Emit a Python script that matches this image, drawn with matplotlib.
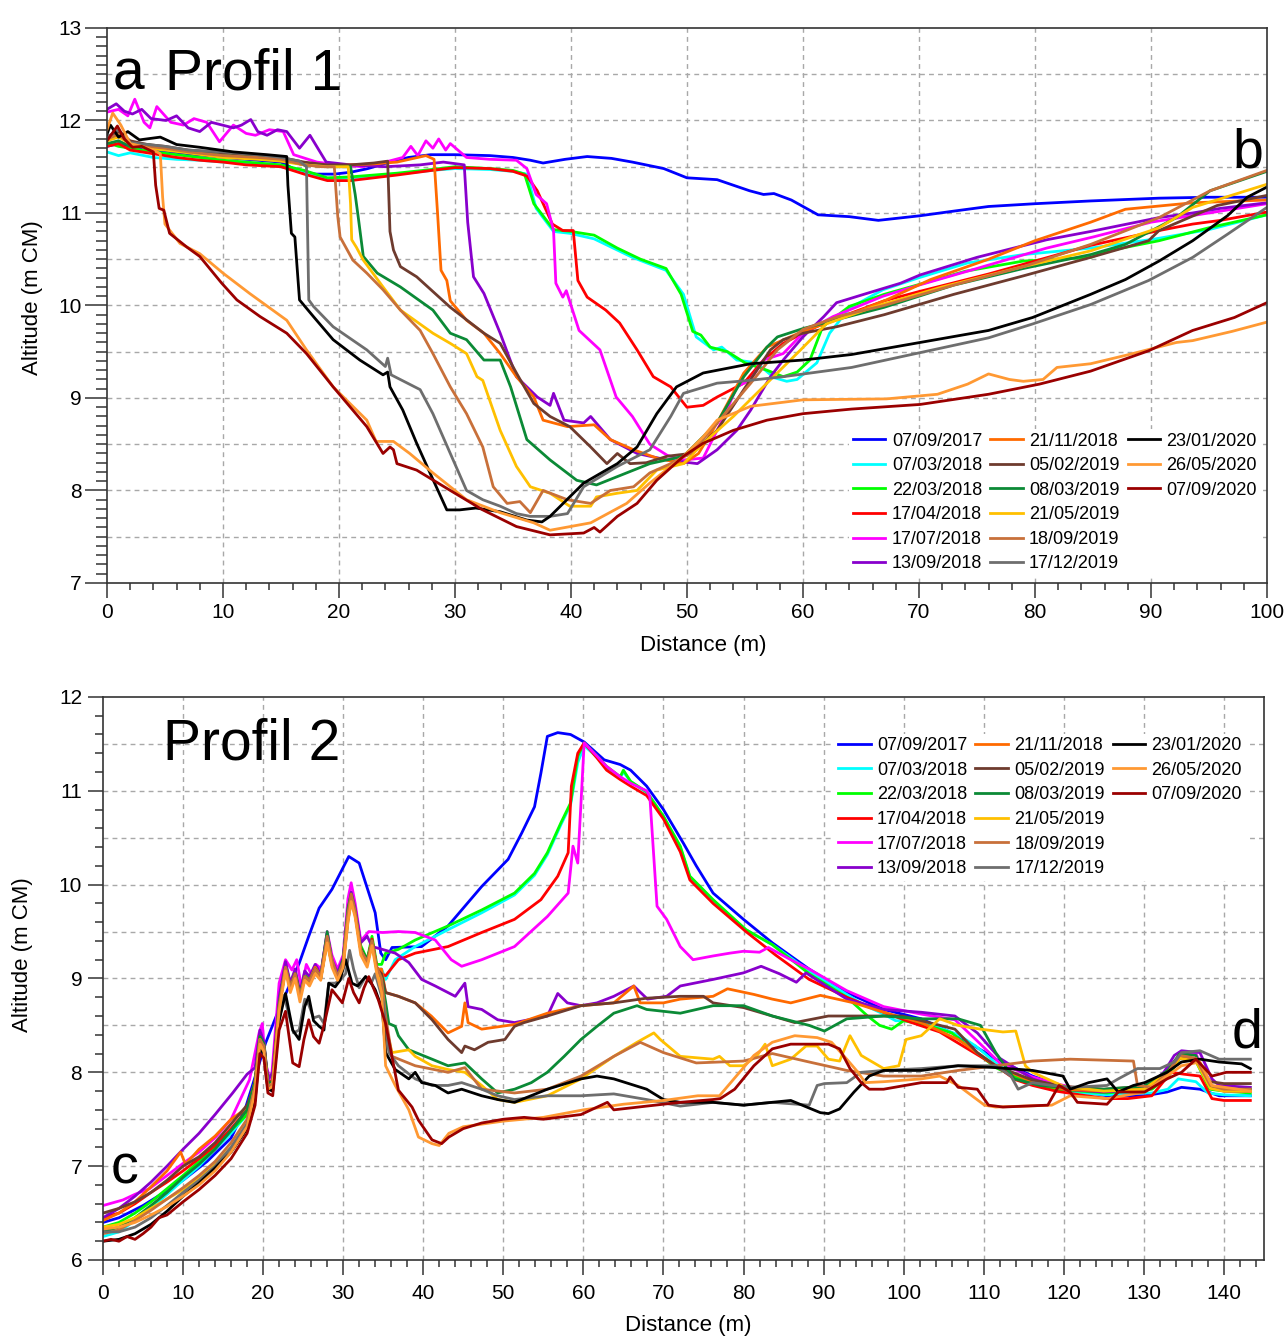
import numpy as np
import matplotlib.pyplot as plt
from matplotlib.lines import Line2D
from matplotlib.ticker import MultipleLocator

plt.rcParams['font.family'] = ['Liberation Sans', 'DejaVu Sans']

dates = ['07/09/2017', '07/03/2018', '22/03/2018', '17/04/2018', '17/07/2018',
         '13/09/2018', '21/11/2018', '05/02/2019', '08/03/2019', '21/05/2019',
         '18/09/2019', '17/12/2019', '23/01/2020', '26/05/2020', '07/09/2020']
colors = ['#0000ff', '#00ffff', '#00ff00', '#ff0000', '#ff00ff',
          '#8800cc', '#ff6a00', '#6e3b2e', '#0b8a36', '#ffc000',
          '#c8703a', '#6e6e6e', '#000000', '#ff9933', '#9a0000']

# ---------------- Profil 1 ----------------
p1_x_07092017 = [0, 1, 2, 3.5, 5, 7, 10, 13, 15, 16.5, 18, 19.6, 21, 22.5, 24.4, 26, 27.9, 30, 33, 35, 36.5, 37.6, 39.5, 41.4, 43.5, 45.3, 48, 50, 52.6, 54, 55.4, 56.6, 57.5, 59, 61.3, 64, 66.5, 70.1, 73, 76, 80, 84.8, 90.7, 95, 100]
p1_y_07092017 = [11.72, 11.75, 11.7, 11.68, 11.67, 11.64, 11.6, 11.57, 11.55, 11.45, 11.42, 11.42, 11.44, 11.48, 11.55, 11.6, 11.63, 11.63, 11.62, 11.6, 11.57, 11.54, 11.58, 11.61, 11.59, 11.55, 11.48, 11.38, 11.36, 11.3, 11.24, 11.2, 11.21, 11.14, 10.98, 10.96, 10.92, 10.97, 11.02, 11.07, 11.1, 11.13, 11.16, 11.17, 11.17]

p1_x_07032018 = [0, 1, 2, 4, 6, 8, 10, 12, 15, 17, 19, 21, 23, 25, 28, 30, 33, 35, 36.2, 37.0, 38.5, 39.9, 42, 45.3, 48.2, 49.7, 50.8, 52.3, 53, 54.3, 56, 57.5, 58.6, 59.5, 61.2, 62.3, 64, 66.9, 70, 74.2, 79, 84.8, 90.4, 95, 100]
p1_y_07032018 = [11.66, 11.62, 11.65, 11.6, 11.58, 11.57, 11.55, 11.54, 11.5, 11.45, 11.37, 11.38, 11.4, 11.42, 11.46, 11.48, 11.47, 11.45, 11.42, 11.05, 10.8, 10.78, 10.72, 10.52, 10.38, 10.12, 9.66, 9.52, 9.55, 9.41, 9.38, 9.22, 9.18, 9.2, 9.38, 9.7, 9.97, 10.17, 10.3, 10.46, 10.55, 10.62, 10.72, 10.82, 10.98]

p1_x_22032018 = [0, 1, 2, 4, 6, 8, 10, 12, 15, 17, 19, 21, 23, 25, 28, 30, 33, 35, 36, 36.8, 38.5, 40, 42, 44, 46, 48.2, 49.5, 50.5, 51.2, 52, 53.5, 55, 56.9, 58.3, 59.5, 60.6, 61.7, 64, 67, 70.1, 74, 79, 84.8, 86.3, 90.7, 95, 100]
p1_y_22032018 = [11.76, 11.72, 11.7, 11.66, 11.63, 11.6, 11.57, 11.55, 11.52, 11.46, 11.38, 11.39, 11.41, 11.43, 11.47, 11.5, 11.48, 11.46, 11.42, 11.1, 10.82, 10.8, 10.76, 10.62, 10.5, 10.4, 10.12, 9.72, 9.68, 9.55, 9.5, 9.38, 9.3, 9.23, 9.28, 9.41, 9.77, 9.99, 10.12, 10.23, 10.37, 10.48, 10.52, 10.59, 10.7, 10.84, 10.98]

p1_x_17042018 = [0, 1, 2, 4, 6, 8, 10, 12, 15, 17, 19, 21, 23, 25, 28, 30, 33, 35, 36.2, 37.1, 38.4, 39.3, 40.2, 40.6, 41.4, 43, 44.2, 45.7, 47.1, 48.6, 50, 51.4, 52.6, 54.9, 56.6, 58.3, 60, 62, 64.2, 67, 70, 76, 80, 84.8, 90.7, 93.6, 96, 100]
p1_y_17042018 = [11.72, 11.75, 11.68, 11.64, 11.6, 11.57, 11.55, 11.52, 11.5, 11.42, 11.35, 11.35, 11.38, 11.41, 11.46, 11.49, 11.48, 11.45, 11.4, 11.24, 10.88, 10.81, 10.81, 10.27, 10.09, 9.95, 9.81, 9.52, 9.23, 9.12, 8.9, 8.92, 9.01, 9.16, 9.41, 9.59, 9.7, 9.82, 9.92, 10.05, 10.15, 10.34, 10.48, 10.65, 10.81, 10.88, 10.92, 11.01]

p1_x_17072018 = [0, 1, 1.8, 2.4, 3.2, 3.7, 4.3, 5.5, 6.6, 7.5, 8.6, 9.7, 10.9, 12, 12.8, 14, 15.2, 16.1, 18.1, 20, 22, 24, 25.5, 26.2, 26.8, 27.5, 28.1, 28.6, 29.2, 29.6, 31, 33, 35.3, 36.2, 37, 37.9, 38.5, 38.7, 39.3, 39.6, 40.7, 42.5, 43.9, 45.3, 46.8, 48.3, 49.7, 51.4, 53.2, 54.3, 55.5, 56.6, 58.3, 60, 62.6, 66.9, 70, 75, 81, 85, 90, 95, 100]
p1_y_17072018 = [12.09, 12.12, 12.05, 12.23, 11.98, 11.92, 12.15, 11.98, 11.95, 12.02, 11.98, 11.77, 11.95, 11.86, 11.84, 11.9, 11.88, 11.63, 11.55, 11.52, 11.5, 11.55, 11.6, 11.72, 11.62, 11.78, 11.7, 11.8, 11.68, 11.75, 11.6, 11.58, 11.57, 11.48, 11.2, 11.1, 10.81, 10.24, 10.09, 10.16, 9.73, 9.52, 9.01, 8.8, 8.5, 8.38, 8.33, 8.35, 8.8, 9.12, 9.2, 9.41, 9.48, 9.7, 9.88, 10.1, 10.22, 10.4, 10.62, 10.74, 10.9, 11.0, 11.1]

p1_x_13092018 = [0, 0.8, 1.5, 2.2, 3, 3.8, 5.1, 6, 7, 8, 9, 10.9, 11.6, 12.4, 13, 13.8, 14.7, 15.5, 16.6, 17.5, 18.9, 21, 24, 27, 29, 30.8, 31.1, 31.6, 32.5, 33.9, 35.3, 37.1, 38.2, 38.5, 39.4, 41.1, 41.7, 43.4, 45.7, 48.3, 50.9, 52.6, 54.3, 55.5, 57.2, 58.3, 60, 61.8, 62.9, 65.5, 68.4, 70.1, 75, 81, 84.8, 90.7, 93.6, 96, 100]
p1_y_13092018 = [12.12, 12.18, 12.1, 12.07, 12.12, 12.02, 12.0, 12.05, 11.92, 11.88, 11.98, 11.92, 11.95, 12.01, 11.88, 11.84, 11.9, 11.88, 11.7, 11.84, 11.55, 11.52, 11.5, 11.52, 11.55, 11.52, 10.9, 10.31, 10.13, 9.7, 9.23, 9.01, 8.92, 9.05, 8.76, 8.73, 8.8, 8.55, 8.4, 8.33, 8.29, 8.44, 8.65, 8.87, 9.23, 9.41, 9.66, 9.88, 10.03, 10.13, 10.24, 10.33, 10.52, 10.71, 10.8, 10.95, 11.0, 11.05, 11.11]

p1_x_21112018 = [0, 1, 2, 3.5, 5, 7, 10, 13, 15, 17, 19, 21, 23, 25, 27.5, 28.2, 28.5, 28.8, 29.3, 29.6, 31, 32.5, 33.9, 35.3, 36.8, 37.6, 39.7, 42, 43.4, 45.4, 47.4, 49.7, 51, 52.6, 54.9, 56.9, 60, 63, 67.2, 71, 76, 80, 84.8, 87.8, 93.6, 100]
p1_y_21112018 = [11.8, 11.85, 11.75, 11.72, 11.7, 11.66, 11.62, 11.6, 11.58, 11.52, 11.5, 11.52, 11.53, 11.55, 11.62, 11.58, 11.0, 10.38, 10.27, 10.05, 9.84, 9.7, 9.48, 9.23, 9.01, 8.76, 8.69, 8.71, 8.55, 8.44, 8.35, 8.29, 8.4, 8.73, 9.27, 9.55, 9.72, 9.85, 10.06, 10.28, 10.5, 10.7, 10.9, 11.04, 11.11, 11.14]

p1_x_05022019 = [0, 1, 2, 3.5, 5, 7, 10, 13, 15, 17, 19, 21, 23, 24.2, 24.4, 24.7, 25.3, 26.7, 29.6, 32.5, 33.9, 35.3, 36.8, 38.2, 39.9, 41.7, 43.1, 44, 45.1, 46.5, 48.3, 50.3, 52.6, 54.9, 57.2, 58.3, 60, 62.9, 67, 73, 79, 84.8, 89.8, 90.7, 95.7, 100]
p1_y_05022019 = [11.82, 11.88, 11.78, 11.74, 11.72, 11.68, 11.65, 11.62, 11.6, 11.55, 11.52, 11.52, 11.54, 11.56, 10.8, 10.6, 10.42, 10.31, 9.98, 9.7, 9.59, 9.27, 8.94, 8.8, 8.69, 8.47, 8.29, 8.4, 8.29, 8.3, 8.37, 8.4, 8.65, 9.09, 9.52, 9.63, 9.7, 9.77, 9.9, 10.12, 10.32, 10.52, 10.7, 10.81, 11.08, 11.19]

p1_x_08032019 = [0, 1, 2, 3.5, 5, 7, 10, 13, 15, 17, 19, 21, 21.4, 21.7, 22.1, 23.3, 25.3, 28.1, 29.6, 31, 32.5, 33.9, 34.8, 36.2, 38.2, 40.5, 42.2, 44, 46.8, 49.7, 52.6, 54.9, 56.9, 57.8, 60, 62.4, 67, 73, 79, 84.8, 87.8, 92.2, 95.1, 100]
p1_y_08032019 = [11.75, 11.78, 11.72, 11.74, 11.7, 11.66, 11.62, 11.6, 11.58, 11.52, 11.5, 11.5, 11.2, 10.92, 10.53, 10.35, 10.2, 9.95, 9.7, 9.63, 9.41, 9.41, 9.12, 8.55, 8.33, 8.11, 8.06, 8.15, 8.29, 8.37, 8.73, 9.23, 9.55, 9.66, 9.75, 9.83, 9.98, 10.22, 10.4, 10.55, 10.66, 10.95, 11.24, 11.45]

p1_x_21052019 = [0, 1, 2, 3.5, 5, 7, 10, 13, 15, 17, 19, 20.8, 21.0, 21.1, 21.5, 22.1, 23.8, 25.3, 28.1, 29.6, 31, 31.9, 32.4, 33.9, 35.3, 36.5, 38.2, 39.9, 41.7, 42.2, 44, 45.7, 47.4, 49.7, 51.4, 54, 56.9, 59.8, 62, 66, 72, 79, 84.8, 90.7, 93.6, 100]
p1_y_21052019 = [11.78, 11.82, 11.75, 11.7, 11.68, 11.65, 11.6, 11.58, 11.56, 11.52, 11.5, 11.5, 11.1, 10.71, 10.63, 10.49, 10.2, 9.95, 9.7, 9.59, 9.48, 9.23, 9.19, 8.65, 8.26, 8.04, 7.97, 7.83, 7.83, 7.93, 7.97, 8.0, 8.22, 8.29, 8.51, 8.8, 9.16, 9.52, 9.8, 9.98, 10.2, 10.42, 10.59, 10.84, 11.06, 11.31]

p1_x_18092019 = [0, 1, 2, 3.5, 5, 7, 10, 13, 15, 17, 18.5, 19.6, 19.9, 20.1, 21.2, 22.4, 23.8, 25.3, 27, 28.1, 29.6, 31, 32.4, 33.3, 34.5, 35.6, 36.5, 37.6, 39.7, 41.7, 43.4, 45.4, 46.8, 48.6, 50.3, 52.6, 55.5, 57.8, 60, 63, 67, 73, 79, 84.8, 90.7, 95.1, 100]
p1_y_18092019 = [11.8, 11.85, 11.74, 11.72, 11.7, 11.66, 11.62, 11.6, 11.58, 11.52, 11.5, 11.5, 10.96, 10.74, 10.49, 10.35, 10.17, 9.95, 9.73, 9.48, 9.12, 8.83, 8.47, 8.04, 7.86, 7.88, 7.76, 8.0, 7.9, 7.86, 8.0, 8.04, 8.19, 8.29, 8.4, 8.73, 9.16, 9.52, 9.74, 9.88, 10.0, 10.22, 10.42, 10.66, 10.95, 11.24, 11.46]

p1_x_17122019 = [0, 1, 2, 3.5, 5, 7, 10, 13, 15, 16.6, 17.2, 17.4, 17.8, 19.5, 22.4, 24, 24.2, 24.5, 27, 28.1, 29.6, 31, 32.4, 33.9, 35.3, 36.5, 38.2, 39.7, 41.1, 44, 46.8, 48.6, 49.7, 52.6, 55.4, 58.3, 64.2, 70.1, 76, 79.8, 84.8, 89.8, 93.6, 96.6, 100]
p1_y_17122019 = [11.82, 11.9, 11.76, 11.74, 11.72, 11.68, 11.66, 11.63, 11.6, 11.56, 11.5, 10.06, 9.99, 9.77, 9.52, 9.34, 9.43, 9.25, 9.09, 8.83, 8.4, 8.0, 7.9, 7.83, 7.75, 7.72, 7.72, 7.75, 8.04, 8.26, 8.44, 8.8, 9.05, 9.16, 9.19, 9.23, 9.33, 9.49, 9.65, 9.8, 10.01, 10.27, 10.52, 10.77, 11.06]

p1_x_23012020 = [0, 0.3, 1, 1.8, 2.8, 4.6, 6, 8, 10.9, 13.8, 15.5, 15.6, 15.9, 16.2, 16.6, 17.8, 19.5, 21.8, 23.8, 24.2, 24.4, 25.5, 26.7, 28.1, 29.3, 30.4, 31.8, 33.9, 36.2, 37.5, 38.2, 41.1, 44, 45.7, 47.4, 49.1, 51.4, 55.5, 60, 64.2, 70.1, 76, 79.8, 84.8, 87.8, 90.7, 93.6, 96.6, 98.3, 100]
p1_y_23012020 = [11.85, 11.95, 11.82, 11.88, 11.79, 11.82, 11.74, 11.71, 11.66, 11.63, 11.61, 11.3, 10.78, 10.74, 10.06, 9.88, 9.63, 9.41, 9.25, 9.28, 9.12, 8.87, 8.51, 8.12, 7.79, 7.79, 7.81, 7.77, 7.68, 7.66, 7.72, 8.08, 8.29, 8.47, 8.83, 9.12, 9.27, 9.37, 9.41, 9.47, 9.6, 9.73, 9.87, 10.12, 10.28, 10.48, 10.7, 10.97, 11.17, 11.28]

p1_x_26052020 = [0, 0.5, 1.2, 2, 3, 4, 4.6, 4.8, 5.0, 6.3, 8.0, 10, 12.3, 15.5, 17.2, 19.5, 22.4, 23.2, 24.7, 26.1, 28.1, 31, 33.9, 36.8, 38.2, 41.7, 44.8, 46.8, 49.7, 51.4, 52.6, 55.5, 60, 67.2, 71.6, 74.2, 76, 77.8, 79, 80.7, 81.9, 84.8, 87.8, 92.2, 93.6, 97, 100]
p1_y_26052020 = [11.9, 12.08, 11.95, 11.75, 11.72, 11.68, 11.64, 11.17, 10.88, 10.67, 10.56, 10.35, 10.13, 9.84, 9.52, 9.12, 8.76, 8.53, 8.53, 8.4, 8.19, 7.9, 7.76, 7.65, 7.57, 7.65, 7.86, 8.08, 8.37, 8.58, 8.76, 8.91, 8.98, 8.99, 9.04, 9.15, 9.26, 9.2, 9.18, 9.2, 9.33, 9.37, 9.46, 9.6, 9.62, 9.72, 9.82]

p1_x_07092020 = [0, 0.9, 1.5, 2.2, 3, 4.0, 4.2, 4.5, 4.9, 5.4, 6.9, 8.0, 9.9, 11.2, 13.2, 15.5, 17.2, 19.5, 22.4, 23.8, 24.4, 24.7, 25.0, 26.7, 29.6, 32.4, 35.3, 38.2, 41.1, 42, 42.5, 44, 45.7, 47.4, 49.7, 51.4, 54, 56.9, 60, 64.2, 70.1, 76, 80.4, 84.8, 89.8, 93.6, 97.2, 100]
p1_y_07092020 = [11.78, 11.94, 11.8, 11.71, 11.72, 11.66, 11.3, 11.05, 11.03, 10.78, 10.63, 10.53, 10.24, 10.06, 9.88, 9.70, 9.48, 9.12, 8.69, 8.40, 8.47, 8.44, 8.29, 8.22, 8.0, 7.79, 7.61, 7.52, 7.54, 7.6, 7.55, 7.72, 7.86, 8.11, 8.37, 8.51, 8.65, 8.76, 8.83, 8.88, 8.93, 9.04, 9.15, 9.29, 9.51, 9.73, 9.87, 10.03]

# ---------------- Profil 2 ----------------
p2_x_07092017 = [0, 2, 5, 8, 10, 13, 16, 17.8, 20.3, 21.6, 23.2, 24.5, 25.7, 27, 28.6, 30.7, 32, 34, 34.7, 35.3, 36.1, 39.8, 43.1, 47.3, 50.6, 52.3, 53.9, 54.7, 55.5, 56.8, 58.4, 60.1, 62.6, 64.6, 65.9, 67.9, 70, 72.5, 74.1, 76.2, 80, 83.6, 88.2, 92.9, 97.5, 102.2, 106.8, 111.5, 116.1, 120.8, 125.4, 130.1, 132.9, 134.7, 137, 139.4, 143.3]
p2_y_07092017 = [6.4, 6.45, 6.58, 6.74, 6.85, 7.05, 7.3, 7.62, 8.31, 8.59, 8.91, 9.16, 9.45, 9.75, 9.95, 10.3, 10.23, 9.7, 9.27, 9.2, 9.33, 9.34, 9.56, 9.98, 10.27, 10.55, 10.83, 11.19, 11.58, 11.62, 11.6, 11.52, 11.33, 11.28, 11.22, 11.05, 10.8, 10.44, 10.2, 9.91, 9.63, 9.38, 9.1, 8.85, 8.67, 8.57, 8.39, 8.14, 7.96, 7.82, 7.75, 7.75, 7.79, 7.84, 7.82, 7.75, 7.75]

p2_x_07032018 = [0, 2, 4, 6, 8, 10, 12, 14, 16, 18, 19, 19.6, 20.1, 20.6, 21.2, 22.0, 22.8, 23.4, 24.0, 24.6, 25.2, 25.8, 26.5, 27.2, 28.0, 28.6, 29.3, 30.0, 30.6, 31.0, 31.5, 32.2, 33.0, 33.6, 34.2, 34.8, 35.3, 36.5, 39, 43.1, 47.3, 51.4, 53.9, 55.5, 57.2, 58.4, 59.3, 60.1, 61.7, 62.9, 64.6, 65, 65.9, 67.9, 70, 72.1, 73.3, 76.2, 80.3, 83.6, 88.2, 92.9, 95, 97.5, 99, 102.2, 106.8, 109, 111.5, 114, 116.1, 119, 122, 125.4, 128, 131, 133, 134.3, 136.5, 138, 140, 143.3]
p2_y_07032018 = [6.25, 6.3, 6.42, 6.55, 6.7, 6.85, 7.0, 7.18, 7.35, 7.55, 7.85, 8.35, 8.3, 7.88, 7.92, 8.7, 9.1, 8.9, 9.05, 8.82, 9.0, 8.95, 9.1, 9.0, 9.4, 9.15, 9.0, 9.15, 9.65, 9.85, 9.7, 9.3, 9.15, 9.4, 9.1, 9.1, 8.99, 9.2, 9.34, 9.52, 9.7, 9.89, 10.1, 10.32, 10.64, 10.85, 11.3, 11.48, 11.36, 11.25, 11.14, 11.2, 11.1, 10.98, 10.72, 10.4, 10.08, 9.83, 9.52, 9.36, 9.08, 8.83, 8.72, 8.62, 8.55, 8.55, 8.4, 8.28, 8.1, 7.95, 7.88, 7.82, 7.78, 7.76, 7.78, 7.78, 7.82, 7.93, 7.9, 7.78, 7.76, 7.75]

p2_x_22032018 = [0, 2, 4, 6, 8, 10, 12, 14, 16, 18, 19, 19.6, 20.1, 20.6, 21.2, 22.0, 22.8, 23.4, 24.0, 24.6, 25.2, 25.8, 26.5, 27.2, 28.0, 28.6, 29.3, 30.0, 30.6, 31.0, 31.5, 32.2, 33.0, 33.6, 34.2, 34.8, 35.3, 36.9, 39, 43.1, 47.3, 51.4, 53.9, 55.5, 57.2, 58.4, 59.3, 60.1, 61.7, 62.9, 64.6, 65, 65.9, 67.9, 70, 72.1, 73.3, 76.2, 80.3, 83.6, 88.2, 92.9, 95.5, 97, 98.5, 100, 103, 106, 108.5, 111.5, 114, 116.1, 119, 122, 125.4, 128, 131, 133, 134.5, 136.5, 138.2, 140, 143.3]
p2_y_22032018 = [6.35, 6.4, 6.5, 6.62, 6.76, 6.9, 7.05, 7.2, 7.38, 7.55, 7.9, 8.4, 8.32, 7.9, 7.95, 8.75, 9.15, 8.95, 9.08, 8.85, 9.05, 9.0, 9.12, 9.05, 9.45, 9.2, 9.05, 9.2, 9.7, 9.9, 9.75, 9.35, 9.2, 9.45, 9.15, 9.15, 9.27, 9.31, 9.41, 9.56, 9.73, 9.91, 10.12, 10.34, 10.66, 10.87, 11.37, 11.51, 11.37, 11.26, 11.15, 11.22, 11.1, 10.99, 10.73, 10.41, 10.09, 9.84, 9.52, 9.36, 9.05, 8.8, 8.6, 8.5, 8.46, 8.55, 8.5, 8.42, 8.25, 8.05, 7.95, 7.88, 7.82, 7.8, 7.78, 7.8, 7.82, 7.95, 8.15, 8.12, 7.82, 7.8, 7.78]

p2_x_17042018 = [0, 2, 4, 6, 8, 10, 12, 14, 16, 18, 19, 19.6, 20.1, 20.6, 21.2, 22.0, 22.8, 23.4, 24.0, 24.6, 25.2, 25.8, 26.5, 27.2, 28.0, 28.6, 29.3, 30.0, 30.6, 31.0, 31.5, 32.2, 33.0, 33.6, 34.2, 34.8, 35.3, 36.9, 39, 43.1, 47.3, 51.4, 54.7, 56.8, 58.1, 58.5, 59.3, 60.1, 61.7, 62.9, 64.6, 65.9, 67.9, 70, 72.1, 73.3, 76.2, 80.3, 84, 88.2, 92.9, 97.5, 101, 104.5, 108, 111.5, 114, 116.1, 119, 122, 125.4, 128, 131, 133.4, 135, 137, 138.5, 140, 143.3]
p2_y_17042018 = [6.45, 6.5, 6.6, 6.72, 6.83, 6.95, 7.08, 7.22, 7.4, 7.6, 7.9, 8.38, 8.3, 7.88, 7.9, 8.7, 9.12, 8.9, 9.05, 8.82, 9.02, 8.95, 9.1, 9.0, 9.42, 9.15, 9.02, 9.18, 9.68, 9.88, 9.72, 9.32, 9.18, 9.42, 9.12, 9.05, 9.03, 9.2, 9.27, 9.34, 9.49, 9.63, 9.84, 10.09, 10.34, 11.05, 11.4, 11.51, 11.35, 11.22, 11.12, 11.05, 10.95, 10.7, 10.35, 10.05, 9.8, 9.5, 9.25, 8.99, 8.8, 8.64, 8.53, 8.43, 8.25, 8.07, 7.92, 7.86, 7.8, 7.76, 7.72, 7.72, 7.75, 8.0, 7.98, 7.96, 7.72, 7.7, 7.7]

p2_x_17072018 = [0, 2.5, 4, 5.8, 8, 10, 12, 14.1, 16, 18.3, 19.5, 19.9, 20.3, 21, 22, 22.8, 23.6, 24.2, 24.8, 25.4, 26, 26.6, 27.3, 28, 28.6, 29.3, 30, 30.6, 31, 31.5, 32.2, 33.2, 34.9, 36.9, 39, 41.5, 43.5, 44.8, 47.3, 51.4, 55.5, 58.1, 58.7, 59.3, 59.7, 60.1, 61.7, 62.9, 64.6, 65.9, 67.9, 68.3, 69.2, 70.4, 72.1, 73.7, 76.2, 78.3, 80, 82, 83.1, 85.9, 88.2, 92.9, 97.5, 102.2, 106.4, 109, 112, 116.1, 119, 122, 125.4, 128, 131, 133, 134.5, 136.5, 138.3, 140, 143.3]
p2_y_17072018 = [6.58, 6.64, 6.7, 6.76, 6.9, 7.03, 7.15, 7.31, 7.5, 7.92, 8.42, 8.52, 8.1, 7.88, 8.95, 9.2, 9.09, 9.2, 8.9, 9.15, 9.05, 9.15, 9.1, 9.5, 9.25, 9.1, 9.25, 9.85, 10.02, 9.8, 9.4, 9.5, 9.49, 9.5, 9.49, 9.41, 9.2, 9.13, 9.2, 9.34, 9.66, 9.91, 10.41, 10.23, 10.87, 11.51, 11.37, 11.26, 11.15, 11.08, 11.0, 10.94, 9.77, 9.63, 9.34, 9.2, 9.24, 9.27, 9.29, 9.28, 9.33, 9.2, 9.1, 8.87, 8.7, 8.62, 8.56, 8.35, 8.1, 7.95, 7.88, 7.82, 7.8, 7.82, 7.85, 8.05, 8.18, 8.2, 7.84, 7.8, 7.8]

p2_x_13092018 = [0, 2, 4, 6, 8, 10, 12, 14, 16.2, 18, 19, 19.6, 20.1, 20.6, 21.2, 22.0, 22.8, 23.4, 24.0, 24.6, 25.2, 25.8, 26.5, 27.2, 28.0, 28.6, 29.3, 30.0, 30.6, 31.0, 31.5, 32.2, 33.0, 33.6, 34.9, 36.5, 38.2, 39.8, 41.5, 44, 45.2, 45.6, 47.3, 49.3, 51.4, 55.5, 56.8, 58, 59.7, 61.7, 63.8, 66.3, 68, 70.4, 72.1, 76.2, 80, 82.2, 84.5, 86.6, 87.8, 92.9, 97.5, 102.2, 106.4, 109.2, 112, 116.1, 120, 125, 130, 132.5, 133.8, 134.7, 137, 138.5, 139.4, 143.3]
p2_y_13092018 = [6.45, 6.55, 6.68, 6.83, 7.0, 7.18, 7.35, 7.55, 7.78, 7.98, 8.05, 8.45, 8.32, 7.92, 8.0, 8.8, 9.18, 8.95, 9.1, 8.85, 9.08, 9.02, 9.15, 9.05, 9.48, 9.2, 9.06, 9.22, 9.72, 9.92, 9.75, 9.38, 9.45, 9.34, 9.31, 9.27, 9.17, 8.99, 8.92, 8.81, 8.95, 8.7, 8.67, 8.56, 8.53, 8.6, 8.84, 8.74, 8.71, 8.74, 8.81, 8.92, 8.78, 8.81, 8.92, 8.99, 9.06, 9.13, 9.05, 8.96, 9.06, 8.78, 8.67, 8.64, 8.6, 8.42, 8.15, 7.93, 7.82, 7.79, 7.82, 8.0, 8.18, 8.23, 8.21, 7.93, 7.86, 7.84]

p2_x_21112018 = [0, 2, 4, 6, 8, 9.7, 10.3, 12, 14, 16, 18, 19, 19.6, 20.1, 20.6, 21.2, 22.0, 22.8, 23.4, 24.0, 24.6, 25.2, 25.8, 26.5, 27.2, 28.0, 28.6, 29.3, 30.0, 30.6, 31.0, 31.5, 32.2, 33.0, 33.6, 34.2, 34.8, 35.3, 36.9, 39, 41, 43.1, 44.8, 45.2, 45.6, 47.3, 51.4, 55.5, 59.7, 63.8, 66.3, 67.1, 70, 72.1, 76.2, 78, 81.3, 83.6, 85.9, 89.6, 93.8, 97.5, 102.2, 106.8, 111.5, 116, 120, 125, 130, 133, 134.5, 136.5, 138.3, 140, 143.3]
p2_y_21112018 = [6.42, 6.5, 6.62, 6.78, 6.95, 7.15, 7.02, 7.18, 7.32, 7.5, 7.62, 7.9, 8.38, 8.28, 7.88, 7.92, 8.72, 9.12, 8.92, 9.05, 8.8, 9.02, 8.98, 9.12, 9.02, 9.42, 9.18, 9.02, 9.18, 9.65, 9.85, 9.7, 9.3, 9.15, 9.4, 9.1, 9.1, 8.85, 8.81, 8.74, 8.6, 8.42, 8.49, 8.74, 8.53, 8.46, 8.51, 8.63, 8.71, 8.74, 8.92, 8.74, 8.74, 8.78, 8.81, 8.89, 8.83, 8.78, 8.74, 8.82, 8.74, 8.64, 8.53, 8.35, 8.07, 7.9, 7.82, 7.8, 7.82, 8.0, 8.15, 8.15, 7.85, 7.8, 7.8]

p2_x_05022019 = [0, 2, 4, 6, 8, 10, 12, 14, 16, 18, 19, 19.6, 20.1, 20.6, 21.2, 22.0, 22.8, 23.4, 24.0, 24.6, 25.2, 25.8, 26.5, 27.2, 28.0, 28.6, 29.3, 30.0, 30.6, 31.0, 31.5, 32.2, 33.0, 33.6, 34.2, 34.8, 35.3, 36.9, 39, 41.1, 43.1, 44.8, 45.2, 46.4, 48.1, 50.2, 51.4, 52.6, 55.5, 59.7, 63.8, 67.9, 72.1, 75, 76.2, 80, 83.6, 86.4, 90.6, 95.2, 99.9, 106.4, 109.2, 111.5, 116, 120, 125, 130, 133, 134.5, 136.5, 138.3, 140, 143.3]
p2_y_05022019 = [6.5, 6.55, 6.62, 6.72, 6.85, 7.0, 7.1, 7.25, 7.45, 7.65, 7.88, 8.38, 8.3, 7.9, 7.9, 8.7, 9.1, 8.9, 9.05, 8.82, 9.0, 8.95, 9.1, 9.0, 9.4, 9.15, 9.0, 9.15, 9.62, 9.82, 9.68, 9.3, 9.15, 9.38, 9.1, 9.05, 8.85, 8.81, 8.74, 8.56, 8.35, 8.21, 8.28, 8.24, 8.32, 8.35, 8.49, 8.53, 8.6, 8.71, 8.74, 8.79, 8.81, 8.81, 8.74, 8.69, 8.6, 8.53, 8.6, 8.6, 8.6, 8.46, 8.21, 8.07, 7.92, 7.85, 7.82, 7.85, 8.0, 8.15, 8.12, 7.9, 7.88, 7.88]

p2_x_08032019 = [0, 2, 4, 6, 8, 10, 12, 14, 16, 18, 19, 19.6, 20.1, 20.6, 21.2, 22.0, 22.8, 23.4, 24.0, 24.6, 25.2, 25.8, 26.5, 27.2, 28.0, 28.6, 29.3, 30.0, 30.6, 31.0, 31.5, 32.2, 33.0, 33.6, 34.2, 34.8, 35.3, 35.7, 36.5, 36.9, 38.2, 41.1, 43.1, 45.2, 47.3, 49.3, 51.4, 53.5, 55.5, 57.6, 59.7, 61.7, 63.8, 66.7, 67.9, 72.1, 76.2, 80, 83.6, 88.2, 90.1, 92.9, 97.5, 102.2, 106.8, 109.6, 111.5, 113.8, 117, 120, 125, 130, 133, 134.5, 136.5, 138.3, 140, 143.3]
p2_y_08032019 = [6.3, 6.35, 6.45, 6.58, 6.72, 6.88, 7.02, 7.18, 7.38, 7.6, 7.9, 8.38, 8.3, 7.88, 7.9, 8.72, 9.12, 8.9, 9.05, 8.82, 9.02, 8.97, 9.1, 9.02, 9.5, 9.18, 9.02, 9.2, 9.75, 9.9, 9.72, 9.32, 9.2, 9.4, 9.1, 9.0, 8.75, 8.52, 8.49, 8.39, 8.24, 8.14, 8.07, 8.1, 7.93, 7.78, 7.82, 7.89, 8.0, 8.17, 8.35, 8.49, 8.63, 8.71, 8.67, 8.63, 8.71, 8.71, 8.6, 8.5, 8.44, 8.57, 8.6, 8.57, 8.57, 8.5, 8.21, 7.93, 7.86, 7.84, 7.82, 7.85, 8.02, 8.2, 8.18, 7.85, 7.82, 7.82]

p2_x_21052019 = [0, 2, 4, 6, 8, 10, 12, 14, 16, 18, 19, 19.6, 20.1, 20.6, 21.2, 22.0, 22.8, 23.4, 24.0, 24.6, 25.2, 25.8, 26.5, 27.2, 28.0, 28.6, 29.3, 30.0, 30.6, 31.0, 31.5, 32.2, 33.0, 33.6, 34.2, 34.8, 35.3, 36.1, 38.2, 39, 41.1, 43.1, 45.2, 47.3, 49.3, 51.4, 55.5, 59.7, 63.8, 66.7, 68.8, 69.6, 72.1, 76.2, 77, 78.3, 80, 81.7, 82.7, 83.6, 85.9, 87.8, 89.2, 90.6, 92, 93.3, 94.7, 97.5, 99.4, 100.3, 102.2, 103.6, 104.5, 106.8, 109.6, 112.4, 114, 115.2, 116.1, 120, 125, 130, 133, 134.5, 136.5, 138.3, 140, 143.3]
p2_y_21052019 = [6.35, 6.38, 6.45, 6.55, 6.65, 6.75, 6.88, 7.02, 7.2, 7.45, 7.85, 8.35, 8.25, 7.85, 7.88, 8.68, 9.1, 8.88, 9.02, 8.8, 9.0, 8.95, 9.08, 9.0, 9.4, 9.15, 9.0, 9.15, 9.65, 9.85, 9.68, 9.3, 9.15, 9.38, 9.08, 8.9, 8.5, 8.21, 8.24, 8.17, 8.07, 8.03, 8.0, 7.86, 7.71, 7.68, 7.75, 7.93, 8.17, 8.32, 8.42, 8.35, 8.17, 8.14, 8.17, 8.07, 8.07, 8.18, 8.3, 8.07, 8.14, 8.28, 8.28, 8.14, 8.12, 8.39, 8.18, 8.04, 8.07, 8.35, 8.39, 8.5, 8.57, 8.5, 8.46, 8.43, 8.44, 8.07, 8.0, 7.85, 7.8, 7.82, 8.0, 8.15, 8.12, 7.83, 7.8, 7.8]

p2_x_18092019 = [0, 2, 4, 6, 8, 10, 12, 14, 16, 18, 19, 19.6, 20.1, 20.6, 21.2, 22.0, 22.8, 23.4, 24.0, 24.6, 25.2, 25.8, 26.5, 27.2, 28.0, 28.6, 29.3, 30.0, 30.6, 31.0, 31.5, 32.2, 33.0, 33.6, 34.2, 34.8, 35.3, 36.1, 39, 43.1, 45.2, 47.3, 51.4, 55.5, 59.7, 63.8, 67.1, 70, 74.1, 80, 83.6, 88.2, 92.9, 97.5, 102.2, 106.8, 111.5, 116.1, 120.8, 128.7, 129.2, 131, 133, 134.5, 136.5, 138.3, 140, 143.3]
p2_y_18092019 = [6.28, 6.32, 6.42, 6.53, 6.65, 6.77, 6.9, 7.05, 7.25, 7.5, 7.85, 8.35, 8.28, 7.85, 7.88, 8.7, 9.12, 8.9, 9.05, 8.8, 9.02, 8.97, 9.1, 9.02, 9.45, 9.2, 9.02, 9.18, 9.7, 9.9, 9.72, 9.3, 9.18, 9.4, 9.12, 9.0, 8.6, 8.17, 8.07, 8.0, 8.05, 7.82, 7.78, 7.82, 7.96, 8.17, 8.32, 8.21, 8.1, 8.12, 8.2, 8.11, 8.02, 7.96, 7.96, 8.02, 8.07, 8.12, 8.14, 8.12, 7.86, 7.84, 8.0, 8.18, 8.15, 7.86, 7.82, 7.82]

p2_x_17122019 = [0, 2, 4, 6, 8, 10, 12, 14, 16, 18, 19, 19.6, 20.1, 20.6, 21.2, 22.0, 22.6, 23.2, 23.8, 24.5, 25.2, 25.7, 26.3, 27.0, 27.6, 28.2, 29.0, 29.6, 30.3, 30.8, 31.3, 32.0, 32.8, 33.5, 34.0, 34.5, 35.0, 35.7, 36.9, 39, 41.1, 43.1, 44.8, 47.3, 49.3, 51.4, 55.5, 59.7, 63.8, 67.9, 72.1, 76.2, 80, 83.6, 88.2, 89.2, 90.1, 92.9, 94.7, 97.5, 102.2, 106.8, 111.5, 113.4, 114.3, 116.1, 118.5, 121, 125.4, 126.8, 129.2, 132, 133.8, 134.7, 137, 139.4, 143.3]
p2_y_17122019 = [6.3, 6.3, 6.35, 6.45, 6.58, 6.72, 6.85, 7.0, 7.2, 7.45, 7.75, 8.28, 8.22, 7.85, 7.82, 8.55, 8.82, 8.62, 8.42, 8.45, 8.78, 8.72, 8.58, 8.6, 8.52, 8.95, 8.95, 8.98, 9.05, 9.3, 9.1, 8.9, 9.02, 8.95, 9.05, 8.9, 8.75, 8.21, 8.07, 7.93, 7.86, 7.86, 7.89, 7.82, 7.75, 7.71, 7.75, 7.75, 7.77, 7.71, 7.64, 7.68, 7.65, 7.68, 7.65, 7.86, 7.88, 7.89, 8.0, 8.02, 8.04, 8.07, 8.07, 7.96, 7.82, 7.89, 7.86, 7.84, 7.86, 7.93, 8.04, 8.04, 8.11, 8.21, 8.23, 8.14, 8.14]

p2_x_23012020 = [0, 2, 4, 6, 8, 10, 12, 14, 16, 18, 19, 19.6, 20.1, 20.6, 21.2, 22.0, 22.8, 23.7, 24.5, 25.2, 25.7, 26.3, 27.0, 27.6, 28.2, 29.0, 29.6, 30.3, 31.1, 31.8, 32.8, 33.5, 34.0, 34.9, 35.3, 36.5, 38.2, 39, 39.8, 41.5, 43.1, 44.8, 47.3, 49.3, 51.4, 55.5, 59.7, 61.7, 63.8, 67.9, 70, 72.1, 76.2, 80, 85.9, 89.6, 90.6, 92, 93.8, 95.7, 97.5, 102.2, 106.8, 111.5, 116.1, 119.9, 120.8, 123.1, 125.4, 126.8, 128.7, 130.1, 132.9, 134.7, 137, 139.4, 142.2, 143.3]
p2_y_23012020 = [6.2, 6.22, 6.28, 6.38, 6.52, 6.68, 6.82, 6.98, 7.15, 7.4, 7.7, 8.25, 8.2, 7.82, 7.8, 8.55, 8.84, 8.45, 8.35, 8.7, 8.81, 8.55, 8.49, 8.45, 8.95, 8.91, 8.98, 9.2, 8.95, 8.92, 9.02, 8.95, 8.88, 8.67, 8.21, 8.03, 7.93, 8.0, 7.89, 7.86, 7.78, 7.82, 7.75, 7.71, 7.68, 7.82, 7.93, 7.96, 7.93, 7.82, 7.71, 7.68, 7.68, 7.65, 7.7, 7.57, 7.56, 7.61, 7.79, 7.96, 8.02, 8.02, 8.07, 8.05, 8.02, 7.96, 7.82, 7.89, 7.93, 7.79, 7.86, 7.89, 8.0, 8.11, 8.14, 8.11, 8.09, 8.04]

p2_x_26052020 = [0, 2, 4, 6, 8, 10, 12, 14, 16, 18, 19, 19.6, 20.1, 20.6, 21.2, 22.0, 22.8, 23.4, 24.0, 24.6, 25.2, 25.8, 26.5, 27.2, 28.0, 28.6, 29.3, 30.0, 30.6, 31.0, 31.5, 32.2, 33.0, 33.6, 34.2, 34.8, 35.3, 36.5, 38.2, 39.4, 41.1, 42, 43.2, 45, 50, 55, 60, 65, 70, 74.3, 77, 79, 81.3, 83.6, 86.4, 89.2, 91, 92.9, 94.3, 95.2, 97.5, 102.2, 104.5, 106.8, 110.1, 111.5, 118.5, 120.8, 125.4, 130.1, 132.9, 134.7, 137, 138.5, 143.3]
p2_y_26052020 = [6.33, 6.35, 6.4, 6.48, 6.57, 6.68, 6.8, 6.95, 7.15, 7.42, 7.8, 8.3, 8.22, 7.82, 7.85, 8.65, 9.08, 8.85, 9.0, 8.75, 8.98, 8.92, 9.05, 8.98, 9.38, 9.12, 8.98, 9.12, 9.6, 9.82, 9.65, 9.25, 9.12, 9.35, 9.05, 8.85, 8.07, 7.86, 7.6, 7.31, 7.24, 7.22, 7.35, 7.42, 7.48, 7.52, 7.6, 7.66, 7.7, 7.75, 7.75, 7.95, 8.18, 8.32, 8.39, 8.37, 8.32, 8.14, 8.0, 7.89, 7.9, 7.93, 7.96, 7.86, 7.65, 7.63, 7.65, 7.75, 7.72, 7.79, 7.96, 8.07, 8.11, 7.86, 7.8]

p2_x_07092020 = [0, 1, 2, 3, 4, 5, 6, 7, 8, 9, 10, 12, 14, 16, 18, 19, 19.6, 20.1, 20.6, 21.2, 22.0, 22.8, 23.7, 24.5, 25.1, 25.7, 26.3, 27.0, 27.6, 28.6, 29.9, 30.7, 31.3, 32.0, 32.6, 33.2, 34.4, 35.3, 36.9, 38.6, 39.4, 41.1, 42.3, 43.2, 45, 47.3, 50, 52.6, 55, 59.7, 63, 63.8, 67.9, 72.1, 76.2, 77.1, 78.9, 81.3, 83.6, 85.9, 90.6, 92, 93.3, 94.7, 95.7, 97.5, 102.2, 105.4, 105.8, 106.8, 109.2, 110.6, 112.4, 118, 119.4, 120.8, 121.7, 125.4, 126.8, 130.1, 132.9, 134.7, 136.5, 138.5, 140.3, 143.3]
p2_y_07092020 = [6.2, 6.22, 6.2, 6.25, 6.22, 6.28, 6.35, 6.45, 6.48, 6.55, 6.62, 6.75, 6.9, 7.08, 7.35, 7.65, 8.2, 8.15, 7.78, 7.75, 8.45, 8.65, 8.1, 8.06, 8.35, 8.56, 8.38, 8.31, 8.5, 8.88, 8.74, 9.0, 8.85, 8.74, 8.9, 9.02, 8.77, 8.52, 7.81, 7.63, 7.49, 7.28, 7.24, 7.31, 7.4, 7.46, 7.5, 7.52, 7.5, 7.55, 7.68, 7.6, 7.64, 7.68, 7.71, 7.72, 7.82, 8.07, 8.25, 8.3, 8.3, 8.25, 8.04, 7.89, 7.82, 7.82, 7.89, 7.89, 7.95, 7.84, 7.82, 7.65, 7.63, 7.65, 7.86, 7.79, 7.68, 7.66, 7.79, 7.79, 7.93, 8.0, 8.14, 7.96, 8.0, 8.0]

p1_series = [
    (p1_x_07092017, p1_y_07092017), (p1_x_07032018, p1_y_07032018),
    (p1_x_22032018, p1_y_22032018), (p1_x_17042018, p1_y_17042018),
    (p1_x_17072018, p1_y_17072018), (p1_x_13092018, p1_y_13092018),
    (p1_x_21112018, p1_y_21112018), (p1_x_05022019, p1_y_05022019),
    (p1_x_08032019, p1_y_08032019), (p1_x_21052019, p1_y_21052019),
    (p1_x_18092019, p1_y_18092019), (p1_x_17122019, p1_y_17122019),
    (p1_x_23012020, p1_y_23012020), (p1_x_26052020, p1_y_26052020),
    (p1_x_07092020, p1_y_07092020)]
p2_series = [
    (p2_x_07092017, p2_y_07092017), (p2_x_07032018, p2_y_07032018),
    (p2_x_22032018, p2_y_22032018), (p2_x_17042018, p2_y_17042018),
    (p2_x_17072018, p2_y_17072018), (p2_x_13092018, p2_y_13092018),
    (p2_x_21112018, p2_y_21112018), (p2_x_05022019, p2_y_05022019),
    (p2_x_08032019, p2_y_08032019), (p2_x_21052019, p2_y_21052019),
    (p2_x_18092019, p2_y_18092019), (p2_x_17122019, p2_y_17122019),
    (p2_x_23012020, p2_y_23012020), (p2_x_26052020, p2_y_26052020),
    (p2_x_07092020, p2_y_07092020)]

GRID = dict(color='#a8a8a8', lw=1.0, ls=(0, (3.5, 3)), zorder=0)


def style_axes(ax, xmax, ymin, ymax, yminor, ymaj_len, ymin_len, xpad, ypad):
    ax.set_xlim(0, xmax)
    ax.set_ylim(ymin, ymax)
    ax.xaxis.set_major_locator(MultipleLocator(10))
    ax.xaxis.set_minor_locator(MultipleLocator(2))
    ax.yaxis.set_major_locator(MultipleLocator(1))
    ax.yaxis.set_minor_locator(MultipleLocator(yminor))
    for xv in np.arange(10, xmax, 10):
        ax.axvline(xv, **GRID)
    for yv in np.arange(ymin + 0.5, ymax, 0.5):
        ax.axhline(yv, **GRID)
    ax.tick_params(axis='both', which='both', direction='out', width=1.1,
                   color='#333333', labelsize=15)
    ax.tick_params(axis='x', which='major', length=11, pad=xpad)
    ax.tick_params(axis='x', which='minor', length=5)
    ax.tick_params(axis='y', which='major', length=ymaj_len, pad=ypad)
    ax.tick_params(axis='y', which='minor', length=ymin_len)
    for s in ax.spines.values():
        s.set_linewidth(1.2)
        s.set_color('#333333')
    ax.set_xlabel('Distance (m)', fontsize=16)
    ax.set_ylabel('Altitude (m CM)', fontsize=16)


def draw_lines(ax, series):
    lines = []
    for (xs, ys), c in zip(series, colors):
        ln, = ax.plot(xs, ys, color=c, lw=2.0, zorder=2)
        lines.append(ln)
    return lines


def add_legend(ax, lines, anchor):
    blanks = [Line2D([], [], color='none') for _ in range(3)]
    ax.legend(lines + blanks, dates + [''] * 3, ncol=3, loc='upper left',
              bbox_to_anchor=anchor, borderaxespad=0, fontsize=13,
              handlelength=1.8, handletextpad=0.35, columnspacing=0.45,
              labelspacing=0.42, borderpad=0.2, frameon=True, fancybox=False,
              edgecolor='none', facecolor='white', framealpha=1)


fig = plt.figure(figsize=(12.87, 13.38), dpi=100)
ax1 = fig.add_axes([0.0831, 0.5643, 0.9013, 0.4148])
ax2 = fig.add_axes([0.0800, 0.0583, 0.9021, 0.4208])

# Profil 1
style_axes(ax1, 100, 7, 13, 0.1, 16, 8, 3.5, 2)
l1 = draw_lines(ax1, p1_series)
add_legend(ax1, l1, (0.640, 0.2775))
ax1.text(0.45, 12.34, 'a', fontsize=41)
ax1.text(5.0, 12.34, 'Profil 1', fontsize=41)
ax1.text(97.0, 11.49, 'b', fontsize=40)
ax1.xaxis.set_label_coords(0.514, -0.094)
ax1.yaxis.set_label_coords(-0.055, 0.514)

# Profil 2
style_axes(ax2, 145, 6, 12, 0.2, 11, 6, 6, 4)
l2 = draw_lines(ax2, p2_series)
add_legend(ax2, l2, (0.630, 0.935))
ax2.text(7.5, 11.33, 'Profil 2', fontsize=41)
ax2.text(0.9, 6.82, 'c', fontsize=40)
ax2.text(140.9, 8.26, 'd', fontsize=40)
ax2.xaxis.set_label_coords(0.504, -0.098)
ax2.yaxis.set_label_coords(-0.060, 0.542)

fig.savefig('out.png', dpi=100)
